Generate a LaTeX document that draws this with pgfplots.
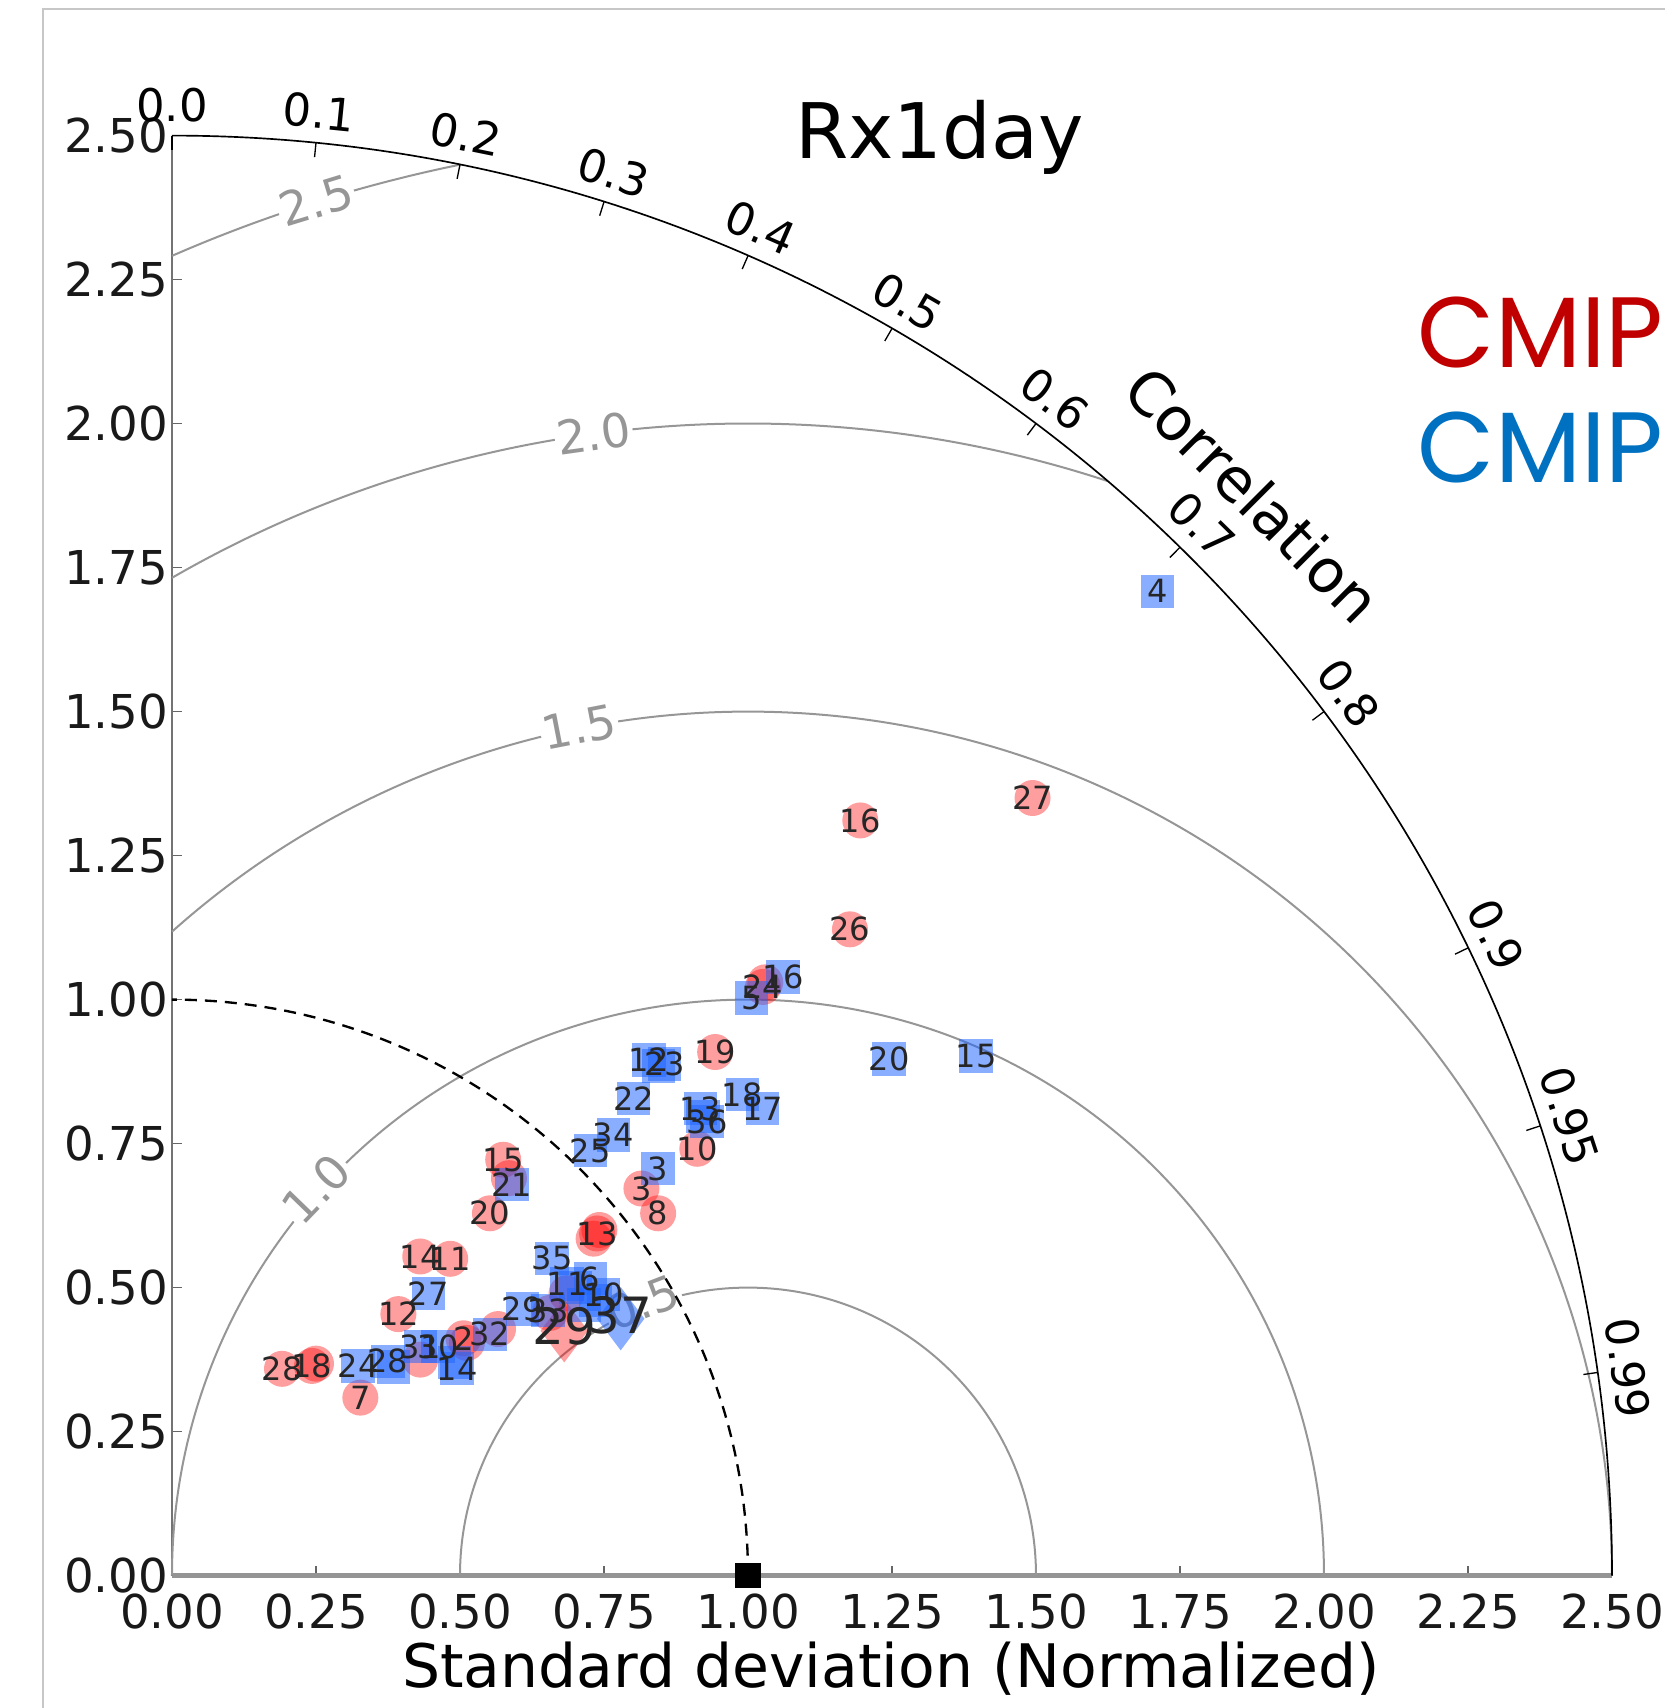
\documentclass[border=0pt]{standalone}
\usepackage{pgfplots}
\pgfplotsset{compat=1.18}
\usepackage{pgfplotstable}
\usepackage{fontspec}
\setmainfont{DejaVu Sans}
\newfontfamily\cmipfont{Poppins}

\definecolor{cmipred}{RGB}{192,0,0}
\definecolor{cmipblue}{RGB}{0,112,192}
\definecolor{sqblue}{RGB}{30,100,255}
\definecolor{contourgray}{RGB}{150,150,150}

\newcommand{\labfont}{\fontsize{9.6}{9.6}\selectfont}
\newcommand{\bigfont}{\fontsize{15}{15}\selectfont}
\newcommand{\tickfont}{\fontsize{14}{14}\selectfont}

% CMIP5 models: normalized standard deviation projected on x and y
\pgfplotstableread{
x     y     lab
0.506 0.412 2
0.815 0.672 3
0.327 0.309 7
0.844 0.629 8
0.912 0.741 10
0.483 0.550 11
0.393 0.454 12
0.738 0.594 13
0.431 0.554 14
0.575 0.722 15
1.195 1.311 16
0.243 0.364 18
0.943 0.909 19
0.552 0.629 20
1.026 1.022 24
1.177 1.122 26
1.494 1.350 27
0.191 0.359 28
}\cmipfive

% CMIP5 models whose numbers sit under neighbouring markers
\pgfplotstableread{
x     y     lab
0.732 0.585 1
0.742 0.600 4
0.250 0.368 5
1.030 1.030 6
0.431 0.375 9
0.566 0.428 17
0.585 0.690 21
0.685 0.490 22
0.656 0.456 23
0.512 0.404 25
}\cmipfivecovered

% CMIP6 models
\pgfplotstableread{
x     y     lab
0.844 0.707 3
1.711 1.709 4
1.006 1.003 5
0.726 0.516 6
0.749 0.488 10
0.686 0.506 11
0.828 0.895 12
0.917 0.811 13
0.495 0.359 14
1.396 0.902 15
1.061 1.039 16
1.025 0.811 17
0.990 0.835 18
1.245 0.897 20
0.590 0.679 21
0.801 0.828 22
0.855 0.888 23
0.323 0.364 24
0.726 0.738 25
0.445 0.490 27
0.375 0.372 28
0.608 0.463 29
0.462 0.398 30
0.431 0.398 31
0.552 0.419 32
0.653 0.460 33
0.766 0.765 34
0.660 0.551 35
0.929 0.788 36
}\cmipsix

% CMIP6 models whose numbers sit under neighbouring markers
\pgfplotstableread{
x     y     lab
0.700 0.500 1
0.735 0.478 2
0.385 0.362 7
0.490 0.370 8
0.845 0.885 9
0.922 0.797 19
0.715 0.470 26
}\cmipsixcovered

\pgfplotsset{
  redmark/.style={only marks, mark=*, mark size=5.4pt,
    mark options={fill=red, draw=red, fill opacity=0.38, draw opacity=0}},
  bluemark/.style={only marks, mark=square*, mark size=5pt,
    mark options={fill=sqblue, draw=sqblue, fill opacity=0.52, draw opacity=0}},
  numbers/.style={only marks, mark=*, mark size=0pt,
    mark options={draw=none, fill=none},
    point meta=explicit symbolic, nodes near coords,
    nodes near coords style={anchor=center, inner sep=0pt, font=#1, text=black!85}},
}

\begin{document}
\begin{tikzpicture}
\useasboundingbox (0,0) rectangle (499.5pt,512.4pt);
\draw[black!22, line width=0.45pt] (12.9pt,-2pt) -- (12.9pt,509.7pt) -- (502pt,509.7pt);
\begin{axis}[
  at={(51.6pt,39.72pt)}, anchor=south west,
  scale only axis, width=432pt, height=432pt,
  xmin=0, xmax=2.5, ymin=0, ymax=2.5,
  clip=false,
  axis lines*=left,
  axis line style={-},
  x axis line style={draw=black!42, line width=1.3pt},
  y axis line style={draw=black!55, line width=0.5pt},
  xtick={0,0.25,0.5,0.75,1,1.25,1.5,1.75,2,2.25,2.5},
  ytick={0,0.25,0.5,0.75,1,1.25,1.5,1.75,2,2.25,2.5},
  tick align=inside, major tick length=3pt,
  tick style={black!60, line width=0.4pt},
  /pgf/number format/assume math mode=true,
  /pgf/number format/fixed, /pgf/number format/fixed zerofill,
  /pgf/number format/precision=2,
  ticklabel style={font=\tickfont, text=black!90},
  xticklabel style={yshift=-2pt},
  yticklabel style={inner sep=1pt},
]
% centred RMS difference contours
\draw[contourgray, line width=0.6pt] (axis cs:1.5,0) arc[start angle=0, end angle=180, radius=86.4pt];
\draw[contourgray, line width=0.6pt] (axis cs:2,0) arc[start angle=0, end angle=180, radius=172.8pt];
\draw[contourgray, line width=0.6pt] (axis cs:2.5,0) arc[start angle=0, end angle=131.81, radius=259.2pt];
\draw[contourgray, line width=0.6pt] (axis cs:1.625,1.9) arc[start angle=71.79, end angle=120, radius=345.6pt];
\draw[contourgray, line width=0.6pt] (axis cs:0.5,2.4495) arc[start angle=101.54, end angle=113.58, radius=432pt];
\node[contourgray, fill=white, inner sep=0.6pt, rotate=17, font=\tickfont] at (axis cs:0.25,2.387) {2.5};
\node[contourgray, fill=white, inner sep=0.6pt, rotate=8, font=\tickfont] at (axis cs:0.732,1.982) {2.0};
\node[contourgray, fill=white, inner sep=0.6pt, rotate=11, font=\tickfont] at (axis cs:0.707,1.473) {1.5};
\node[contourgray, fill=white, inner sep=0.6pt, rotate=46, font=\tickfont] at (axis cs:0.25,0.672) {1.0};
\node[contourgray, fill=white, inner sep=0.6pt, rotate=21, font=\tickfont] at (axis cs:0.817,0.475) {0.5};
% outer boundary and correlation scale
\draw[black, line width=0.5pt] (axis cs:2.5,0) arc[start angle=0, end angle=90, radius=432pt];
\pgfplotsinvokeforeach{0.0,0.1,0.2,0.3,0.4,0.5,0.6,0.7,0.8,0.9,0.95,0.99}{
  \draw[black, line width=0.4pt] (axis cs:{2.5*#1},{2.5*sqrt(1-#1*#1)}) -- (axis cs:{2.475*#1},{2.475*sqrt(1-#1*#1)});
  \node[anchor=south, rotate={acos(#1)-90}, inner sep=0.5pt, font=\fontsize{13.5}{13.5}\selectfont]
    at (axis cs:{2.52*#1},{2.52*sqrt(1-#1*#1)}) {#1};
}
\node[rotate=-45, font=\fontsize{18}{18}\selectfont] at (axis cs:1.877,1.877) {Correlation};
% reference standard deviation
\draw[black, line width=0.7pt, dash pattern=on 3.6pt off 2.4pt] (axis cs:1,0) arc[start angle=0, end angle=90, radius=172.8pt];

% markers
\addplot[redmark] table[x=x, y=y] {\cmipfivecovered};
\addplot[redmark] table[x=x, y=y] {\cmipfive};
\addplot[redmark, mark=diamond*, mark size=9.5pt] coordinates {(0.681,0.425)};
\addplot[bluemark] table[x=x, y=y] {\cmipsixcovered};
\addplot[bluemark] table[x=x, y=y] {\cmipsix};
\addplot[bluemark, mark=diamond*, mark size=9.5pt] coordinates {(0.779,0.446)};
% observed reference
\addplot[only marks, mark=square*, mark size=3.6pt, mark options={fill=black, draw=black}]
  coordinates {(1,0)};

% model numbers
\addplot[numbers=\labfont] table[x=x, y=y, meta=lab] {\cmipfive};
\addplot[numbers=\labfont] table[x=x, y=y, meta=lab] {\cmipsix};
\addplot[numbers=\bigfont] table[x=x, y=y, meta=lab] {
x     y     lab
0.681 0.432 29
0.779 0.452 37
};

% title, axis label and ensemble legend
\node[anchor=base, font=\fontsize{23}{23}\selectfont] at (axis cs:1.332,2.461) {Rx1day};
\node[anchor=base, font=\fontsize{18}{18}\selectfont] at ([yshift=-33.6pt]axis cs:1.248,0) {Standard deviation (Normalized)};
\node[anchor=base west, inner sep=0pt, text=cmipred, font=\cmipfont\fontsize{30}{30}\selectfont] at (axis cs:2.162,2.097) {CMIP5};
\node[anchor=base west, inner sep=0pt, text=cmipblue, font=\cmipfont\fontsize{30}{30}\selectfont] at (axis cs:2.162,1.897) {CMIP6};
\end{axis}
\end{tikzpicture}
\end{document}
